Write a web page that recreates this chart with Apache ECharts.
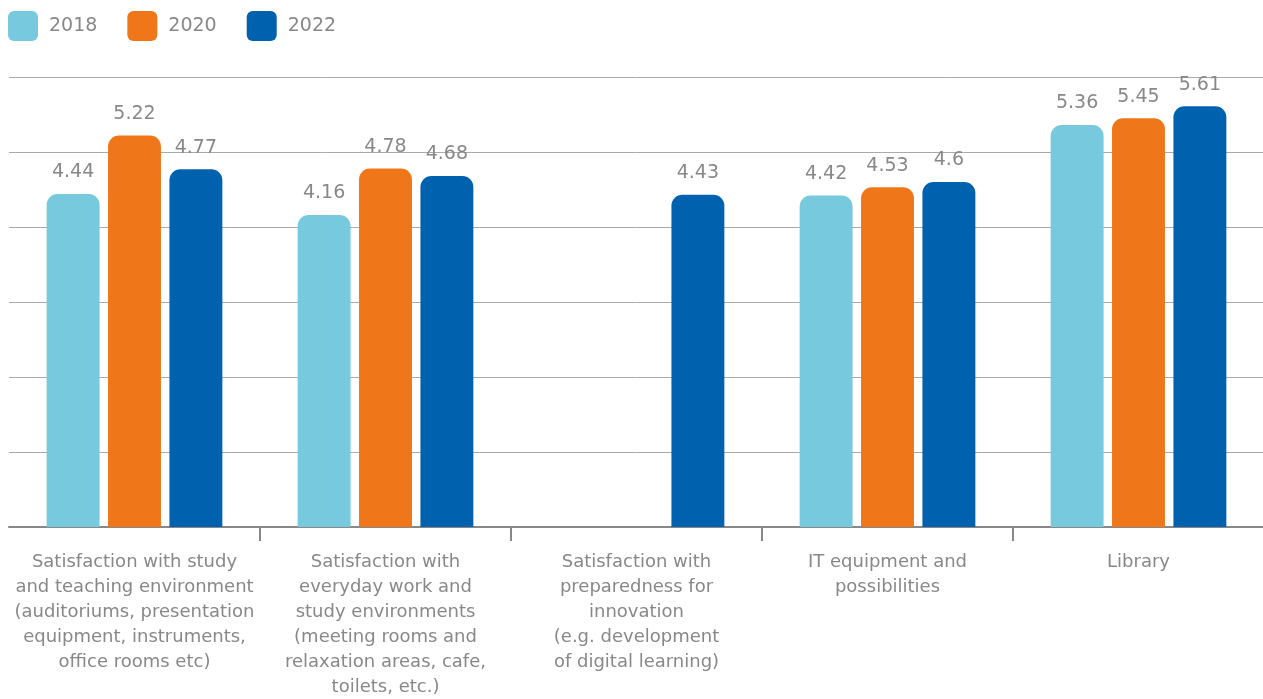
<!DOCTYPE html>
<html>
<head>
<meta charset="utf-8">
<script src="https://cdn.jsdelivr.net/npm/echarts@6/dist/echarts.min.js"></script>
<style>html,body{margin:0;padding:0;background:#fff}#c{width:1263px;height:699px}</style>
</head>
<body>
<div id="c"></div>
<script>
const categories = [
  "Satisfaction with study\nand teaching environment\n(auditoriums, presentation\nequipment, instruments,\noffice rooms etc)",
  "Satisfaction with\neveryday work and\nstudy environments\n(meeting rooms and\nrelaxation areas, cafe,\ntoilets, etc.)",
  "Satisfaction with\npreparedness for\ninnovation\n(e.g. development\nof digital learning)",
  "IT equipment and\npossibilities",
  "Library"
];
const seriesNames = ["2018", "2020", "2022"];
const values2018 = [4.44, 4.16, null, 4.42, 5.36];
const values2020 = [5.22, 4.78, null, 4.53, 5.45];
const values2022 = [4.77, 4.68, 4.43, 4.6, 5.61];
const colors = ["#77C9DD", "#EF7619", "#0061AE"];
const allValues = [values2018, values2020, values2022];

const FONT = "DejaVu Sans";
const chart = echarts.init(document.getElementById('c'));
chart.setOption({
  animation: false,
  textStyle: { fontFamily: FONT },
  legend: {
    left: 3, top: 6,
    itemWidth: 30, itemHeight: 30, itemGap: 30,
    icon: 'path://M6,0 H24 A6,6 0 0 1 30,6 V24 A6,6 0 0 1 24,30 H6 A6,6 0 0 1 0,24 V6 A6,6 0 0 1 6,0 Z',
    textStyle: { fontFamily: FONT, fontSize: 19, color: '#888', padding: [0, 0, 0, 6] },
    data: seriesNames
  },
  grid: { left: 9, right: -1, top: 77, bottom: 172, containLabel: false, outerBoundsMode: 'none' },
  xAxis: {
    type: 'category',
    data: categories,
    axisLine: { lineStyle: { color: '#888', width: 2 } },
    axisTick: { show: true, length: 14, interval: function (i) { return i !== 0; }, lineStyle: { color: '#888', width: 2 } },
    axisLabel: { fontFamily: FONT, fontSize: 18, color: '#888', lineHeight: 25, margin: 23, interval: 0 }
  },
  yAxis: {
    type: 'value', min: 0, max: 6, interval: 1,
    axisLabel: { show: false },
    axisLine: { show: false }, axisTick: { show: false },
    splitLine: { lineStyle: { color: '#aaa', width: 1 } }
  },
  series: seriesNames.map((n, i) => ({
    name: n, type: 'bar', data: allValues[i],
    barGap: '16%', barCategoryGap: '30%',
    itemStyle: { color: colors[i], borderRadius: [11, 11, 0, 0] },
    label: { show: true, position: 'top', distance: 12, fontFamily: FONT, fontSize: 19, color: '#888' }
  }))
});
</script>
</body>
</html>
